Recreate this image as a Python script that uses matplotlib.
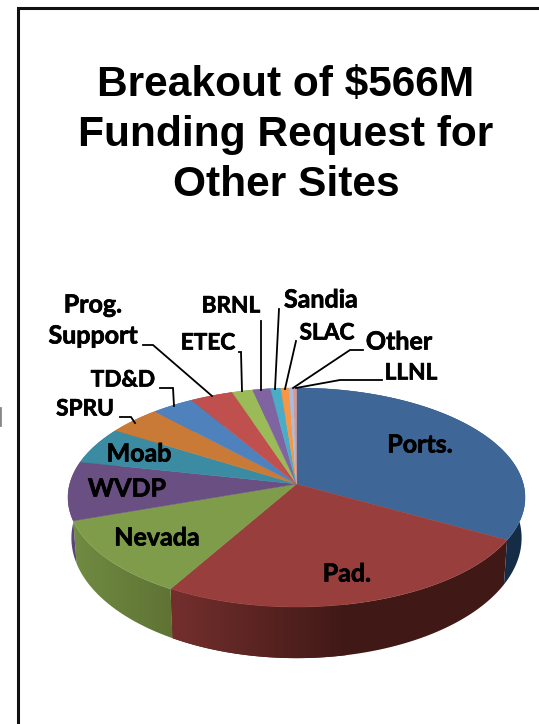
import numpy as np
import matplotlib
matplotlib.use('Agg')
import matplotlib.pyplot as plt
import matplotlib.patheffects as pe
from matplotlib.colors import to_rgb
from matplotlib.patches import Polygon

# funding request by site, $M
sites = ['Ports.', 'Pad.', 'Nevada', 'WVDP', 'Moab', 'SPRU', 'TD&D', 'Prog. Support',
         'ETEC', 'BRNL', 'Sandia', 'SLAC', 'Other', 'LLNL']
funding = [187, 142, 64.5, 49, 31, 24, 19, 19.3, 9.3, 8, 4.6, 3.6, 2.1, 1.3]
top_colors = ['#3e6797', '#983f3d', '#7f9c4b', '#6a4f82', '#3b8ba3', '#c87a36', '#4f81bd',
              '#c0504d', '#9bbb59', '#8064a2', '#4bacc6', '#f79646', '#a9bcdc', '#d99694']
wall_left = ['#172e4a', '#742f2d', '#708b42', '#5b4678', '#2b6a7c', '#96592a', '#3b6190',
             '#903c3a', '#748c43', '#604b7a', '#388195', '#b97034', '#7f8da5', '#a3706f']
wall_right = ['#152c47', '#401917', '#5f7334', '#5b4678', '#2b6a7c', '#96592a', '#3b6190',
              '#903c3a', '#748c43', '#604b7a', '#388195', '#b97034', '#7f8da5', '#a3706f']

# labels: text position in pixels, all-caps ones run narrower
label_text = {
    'Moab': (139, 454), 'WVDP': (127, 489), 'Nevada': (157, 538),
    'Ports.': (420, 445), 'Pad.': (347, 574),
    'SPRU': (85, 409), 'TD&D': (123, 380), 'ETEC': (208, 343), 'BRNL': (231, 306),
    'Sandia': (321, 300), 'SLAC': (327, 333), 'Other': (399, 342), 'LLNL': (411, 373),
    'Prog.': (93, 305), 'Support': (93, 336),
}
narrow = ['SPRU', 'TD&D', 'ETEC', 'BRNL', 'SLAC', 'LLNL']
leaders = [
    ([120, 131, 135], [417, 417, 423]),
    ([160, 173, 174], [388, 388, 406]),
    ([143, 153, 212], [345, 345, 396]),
    ([239, 241, 242], [352, 352, 391]),
    ([261, 261], [321, 390]),
    ([279, 275, 275], [309, 389, 389]),
    ([296, 285], [341, 389]),
    ([363, 350, 293], [350, 350, 388]),
    ([382, 340, 296], [380, 380, 388]),
]

cx, ay = 296.5, 484.0
c, a, k = 226.8, 107.9, 0.123


def project(theta):
    u, v = np.sin(theta), np.cos(theta)
    w = 1 + k * v
    return cx + c * u / w, ay - a * v / w, 39.3 / w**2


fig = plt.figure(figsize=(5.39, 7.24), dpi=100)
ax = fig.add_axes([0, 0, 1, 1])

# frame
ax.plot([18, 18, 539], [724, 7.5, 7.5], color='#111111', lw=2.2, solid_joinstyle='miter')
ax.plot([0, 0], [408, 425], color='#888888', lw=2)

ax.text(286, 135, 'Breakout of $566M\nFunding Request for\nOther Sites', ha='center', va='center',
        fontsize=30.6, fontweight='bold', family='Liberation Sans', linespacing=1.31, color='black')

angles = np.cumsum([0] + funding) / np.sum(funding) * 2 * np.pi

# side wall first, the top face hides the back of it
for i in range(len(sites)):
    th = np.linspace(angles[i], angles[i + 1], 200)
    x, y, d = project(th)
    x2 = cx + (x - cx) * 0.985
    pts = np.c_[np.r_[x, x2[::-1]], np.r_[y, (y + d)[::-1]]]
    grad = np.linspace(to_rgb(wall_left[i]), to_rgb(wall_right[i]), 256)[None, :, :]
    x0, x1 = pts[:, 0].min(), pts[:, 0].max()
    if sites[i] == 'Pad.':
        # dark from about x=345 on
        x1 = 345
        ax.fill(pts[:, 0], pts[:, 1], color=wall_right[i], lw=0)
    im = ax.imshow(grad, extent=(x0, x1, 724, 0), aspect='auto', zorder=1.5, interpolation='bilinear')
    im.set_clip_path(Polygon(pts, transform=ax.transData))

# top face
for i in range(len(sites)):
    th = np.linspace(angles[i], angles[i + 1], 120)
    x, y, d = project(th)
    ax.fill(np.r_[cx, x], np.r_[ay, y], color=top_colors[i], lw=0.3, zorder=2)

for lx, ly in leaders:
    ax.plot(lx, ly, color='black', lw=1.3, solid_joinstyle='miter', zorder=3)

for name, (x, y) in label_text.items():
    size = 16.3 if name in narrow else 18
    ax.text(x, y, name, ha='center', va='center', fontsize=size, fontweight='bold', family='Lato',
            color='black', zorder=4, path_effects=[pe.withStroke(linewidth=0.5, foreground='black')])

ax.set_xlim(0, 539)
ax.set_ylim(724, 0)
ax.axis('off')

fig.savefig('out.png', dpi=100)
